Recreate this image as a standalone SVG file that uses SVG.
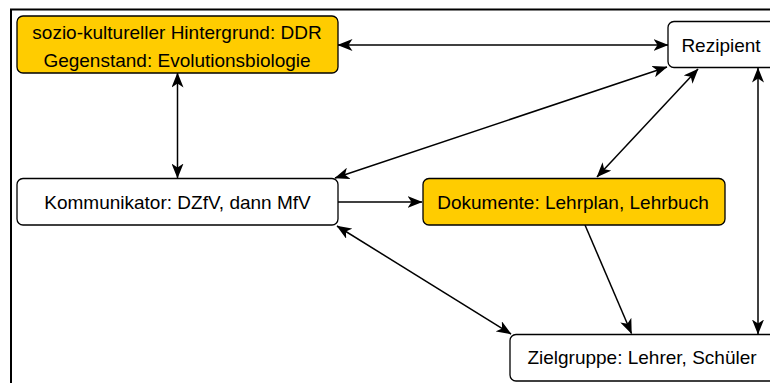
<svg xmlns="http://www.w3.org/2000/svg" width="770" height="383" viewBox="0 0 770 383">
<style>
.box{stroke:#000;stroke-width:1.3}
.y{fill:#FFCC00}
.w{fill:#fff}
text{font-family:"Liberation Sans",Arial,sans-serif;font-size:19px;fill:#000;text-anchor:middle;dominant-baseline:central}
.c{stroke:#000;stroke-width:1.5;fill:none}
</style>
<defs>
<marker id="ah" viewBox="0 0 15 12" refX="14.5" refY="6" markerWidth="15" markerHeight="12" markerUnits="userSpaceOnUse" orient="auto-start-reverse">
<path d="M0,0 L15,6 L0,12 L4,6 Z" fill="#000"/>
</marker>
</defs>
<rect x="0" y="0" width="770" height="383" fill="#fff"/>
<path d="M11,383 V9.5 H770" fill="none" stroke="#000" stroke-width="2"/>
<g id="connectors">
<line class="c" x1="338" y1="45" x2="668" y2="45" marker-start="url(#ah)" marker-end="url(#ah)"/>
<line class="c" x1="177.5" y1="73" x2="177.5" y2="178" marker-start="url(#ah)" marker-end="url(#ah)"/>
<line class="c" x1="335" y1="178" x2="667" y2="67" marker-start="url(#ah)" marker-end="url(#ah)"/>
<line class="c" x1="597" y1="177" x2="698" y2="69" marker-start="url(#ah)" marker-end="url(#ah)"/>
<line class="c" x1="338" y1="202" x2="422" y2="202" marker-end="url(#ah)"/>
<line class="c" x1="585" y1="225" x2="631.5" y2="333.5" marker-end="url(#ah)"/>
<line class="c" x1="337" y1="226" x2="511" y2="334" marker-start="url(#ah)" marker-end="url(#ah)"/>
<line class="c" x1="758" y1="68" x2="758" y2="334" marker-start="url(#ah)" marker-end="url(#ah)"/>
</g>
<g id="n-kontext">
<rect class="box y" x="17" y="16" width="321" height="57" rx="6"/>
<text x="177" y="32">sozio-kultureller Hintergrund: DDR</text>
<text x="177" y="60">Gegenstand: Evolutionsbiologie</text>
</g>
<g id="n-rezipient">
<rect class="box w" x="668" y="21.5" width="110" height="46" rx="6"/>
<text x="721" y="45">Rezipient</text>
</g>
<g id="n-kommunikator">
<rect class="box w" x="17" y="178.5" width="321" height="46.5" rx="6"/>
<text x="177.5" y="202">Kommunikator: DZfV, dann MfV</text>
</g>
<g id="n-dokumente">
<rect class="box y" x="423" y="178.5" width="302" height="46.5" rx="6"/>
<text x="573" y="202">Dokumente: Lehrplan, Lehrbuch</text>
</g>
<g id="n-zielgruppe">
<rect class="box w" x="510" y="334.5" width="268" height="46.5" rx="6"/>
<text x="642" y="357">Zielgruppe: Lehrer, Schüler</text>
</g>
</svg>
